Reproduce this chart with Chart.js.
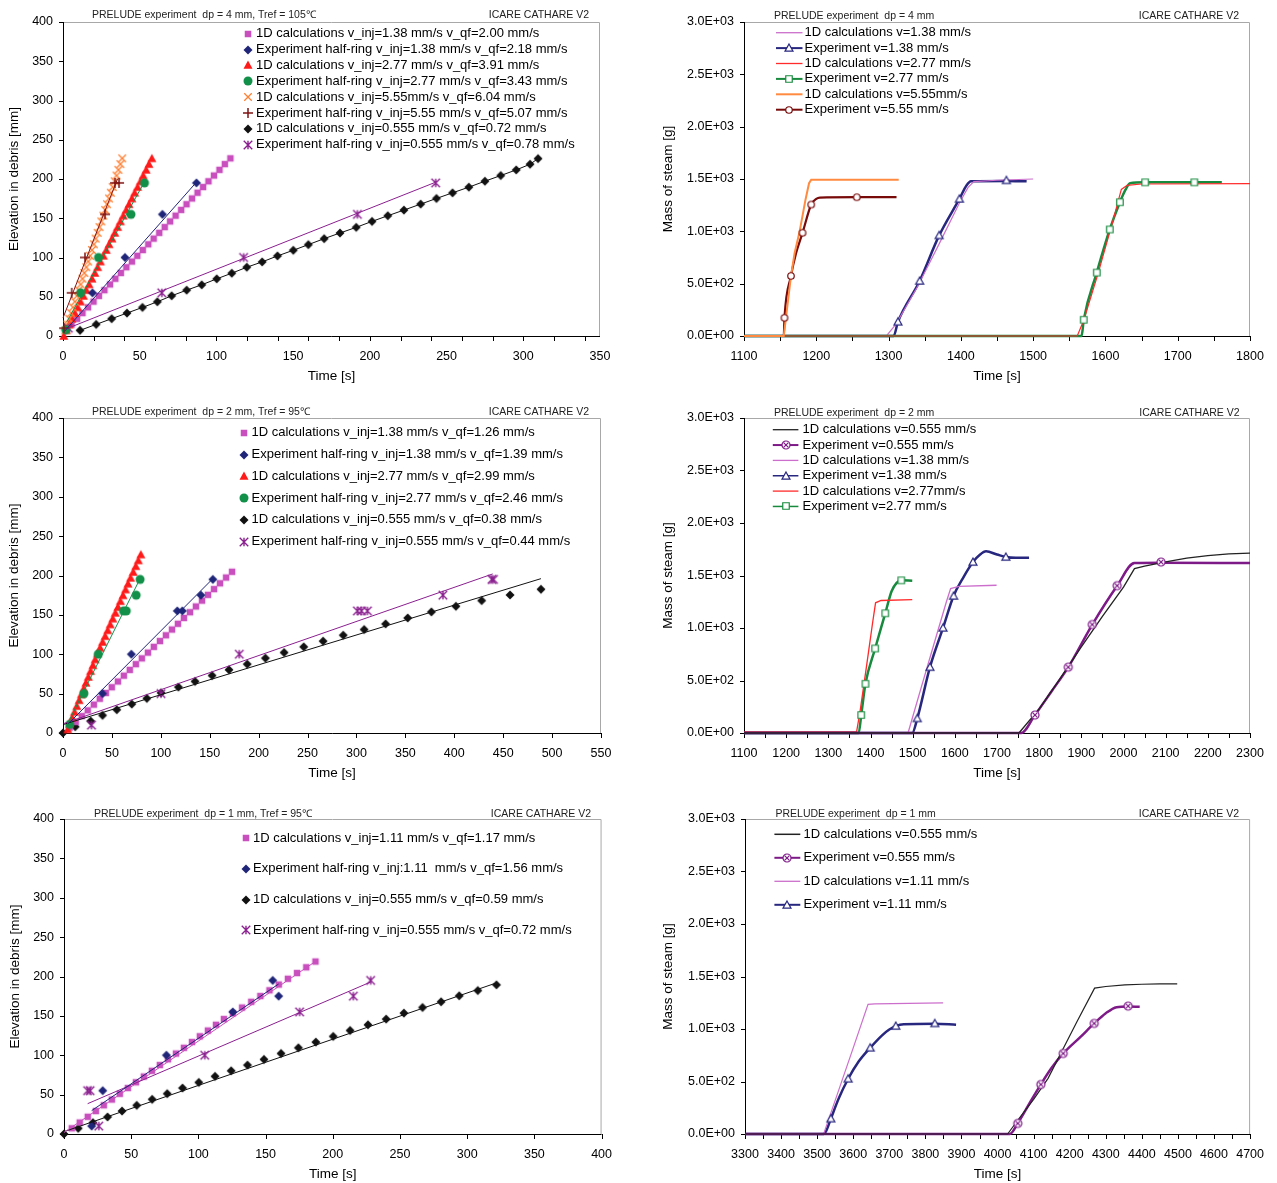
<!DOCTYPE html>
<html>
<head>
<meta charset="utf-8">
<title>PRELUDE quench front and steam mass</title>
<script src="https://cdn.jsdelivr.net/npm/chart.js@4.4.1/dist/chart.umd.min.js"></script>
<style>
  body { margin: 0; background: #fff; }
  #page { position: relative; width: 1277px; height: 1183px; overflow: hidden; background: #fff; }
  .cell { position: absolute; }
</style>
</head>
<body>
<div id="page">
  <div class="cell" style="left:0;top:0;width:625px;height:395px"><canvas id="dp4Front"></canvas></div>
  <div class="cell" style="left:640px;top:0;width:637px;height:395px"><canvas id="dp4Steam"></canvas></div>
  <div class="cell" style="left:0;top:398px;width:625px;height:395px"><canvas id="dp2Front"></canvas></div>
  <div class="cell" style="left:640px;top:398px;width:637px;height:395px"><canvas id="dp2Steam"></canvas></div>
  <div class="cell" style="left:0;top:800px;width:625px;height:383px"><canvas id="dp1Front"></canvas></div>
  <div class="cell" style="left:640px;top:800px;width:637px;height:383px"><canvas id="dp1Steam"></canvas></div>
</div>
<script>
// ---------- tick labels ----------
const elevTicks = [0, 50, 100, 150, 200, 250, 300, 350, 400];
const massTicks = [0, 500, 1000, 1500, 2000, 2500, 3000];
const time350 = [0, 50, 100, 150, 200, 250, 300, 350];
const time550 = [0, 50, 100, 150, 200, 250, 300, 350, 400, 450, 500, 550];
const time400 = [0, 50, 100, 150, 200, 250, 300, 350, 400];
const time1800 = [1100, 1200, 1300, 1400, 1500, 1600, 1700, 1800];
const time2300 = [1100, 1200, 1300, 1400, 1500, 1600, 1700, 1800, 1900, 2000, 2100, 2200, 2300];
const time4700 = [3300, 3400, 3500, 3600, 3700, 3800, 3900, 4000, 4100, 4200, 4300, 4400, 4500, 4600, 4700];

// ---------- dp = 4 mm, elevation of quench front: [time s, elevation mm] ----------
const dp4Calc138 = [[2.0,7.3],[5.6,14.6],[9.2,21.9],[12.7,29.2],[16.3,36.5],[19.9,43.8],[23.4,51.1],[27.0,58.4],[30.6,65.7],[34.1,73.0],[37.7,80.3],[41.3,87.6],[44.9,94.9],[48.4,102.2],[52.0,109.5],[55.6,116.8],[59.1,124.1],[62.7,131.4],[66.3,138.7],[69.8,146.0],[73.4,153.3],[77.0,160.6],[80.5,167.9],[84.1,175.2],[87.7,182.5],[91.3,189.8],[94.8,197.1],[98.4,204.4],[102.0,211.7],[105.5,219.0],[109.1,226.3]];
const dp4Exp138 = [[2,8],[19.2,55],[40.4,100],[64.8,155],[87,195]];
const dp4Exp138Fit = [[1,6],[87,196]];
const dp4Calc277 = [[0.5,0],[2.2,7.3],[4.0,14.6],[5.9,21.9],[7.7,29.2],[9.6,36.5],[11.4,43.8],[13.3,51.1],[15.2,58.4],[17.0,65.7],[18.9,73.0],[20.7,80.3],[22.6,87.6],[24.4,94.9],[26.3,102.2],[28.2,109.5],[30.0,116.8],[31.9,124.1],[33.7,131.4],[35.6,138.7],[37.4,146.0],[39.3,153.3],[41.2,160.6],[43.0,167.9],[44.9,175.2],[46.7,182.5],[48.6,189.8],[50.5,197.1],[52.3,204.4],[54.2,211.7],[56.0,219.0],[57.9,226.3]];
const dp4Exp277 = [[1.8,8],[11.5,55],[23.1,100],[44.3,155],[53.1,195]];
const dp4Exp277Fit = [[2.5,18],[53,196]];
const dp4Calc555 = [[1.6,7.3],[2.8,14.6],[4.1,21.9],[5.3,29.2],[6.5,36.5],[7.8,43.8],[9.0,51.1],[10.2,58.4],[11.5,65.7],[12.7,73.0],[13.9,80.3],[15.2,87.6],[16.4,94.9],[17.6,102.2],[18.9,109.5],[20.1,116.8],[21.3,124.1],[22.6,131.4],[23.8,138.7],[25.0,146.0],[26.3,153.3],[27.5,160.6],[28.7,167.9],[30.0,175.2],[31.2,182.5],[32.4,189.8],[33.7,197.1],[34.9,204.4],[36.1,211.7],[37.4,219.0],[38.6,226.3]];
const dp4Exp555 = [[0.7,10],[5.7,55],[14.3,100],[27.4,155],[33.9,195],[36.5,195]];
const dp4Exp555Fit = [[0,23],[35.5,200]];
const dp4Calc0555 = [[11.1,7.2],[21.6,14.8],[31.7,22.0],[41.7,29.2],[51.8,36.4],[61.5,43.6],[70.8,51.2],[80.6,58.4],[90.4,65.2],[100.2,72.8],[110.0,80.0],[119.8,87.6],[129.8,94.4],[139.8,102.0],[150.1,109.2],[159.9,116.4],[170.2,124.0],[180.5,131.2],[191.1,138.4],[201.4,146.0],[211.7,153.2],[222.2,160.4],[233.1,168.0],[243.4,175.2],[253.9,182.4],[264.5,189.6],[275.0,197.2],[285.3,204.4],[295.4,211.6],[304.4,218.8],[309.6,226.0]];
const dp4Exp0555 = [[3.5,10],[64.4,55],[117.7,100],[191.9,155],[242.9,195]];
const dp4Exp0555Fit = [[2,9],[243,196]];

// ---------- dp = 2 mm ----------
const dp2Calc138 = [[6.9,6.8],[13.0,14.1],[19.2,21.5],[25.3,28.8],[31.5,36.1],[37.6,43.5],[43.8,50.8],[49.9,58.1],[56.1,65.4],[62.2,72.8],[68.3,80.1],[74.5,87.4],[80.6,94.8],[86.8,102.1],[92.9,109.4],[99.1,116.8],[105.2,124.1],[111.4,131.4],[117.5,138.7],[123.6,146.1],[129.8,153.4],[135.9,160.7],[142.1,168.1],[148.2,175.4],[154.4,182.7],[160.5,190.1],[166.7,197.4],[172.8,204.7]];
const dp2Exp138 = [[40.4,50],[69.9,100],[116.8,155],[122,155],[141,175],[153.2,195]];
const dp2Exp138Fit = [[4.8,11],[153.2,196]];
const dp2Calc277 = [[4.8,4.6],[7.1,12.0],[9.5,19.4],[11.8,26.8],[14.1,34.2],[16.5,41.6],[18.8,49.0],[21.2,56.4],[23.5,63.8],[25.9,71.2],[28.2,78.6],[30.6,86.0],[32.9,93.4],[35.3,100.8],[37.9,108.2],[40.5,115.6],[43.1,123.0],[45.7,130.4],[48.3,137.8],[50.9,145.2],[53.5,152.6],[56.1,160.0],[58.7,167.4],[61.3,174.8],[63.9,182.2],[66.5,189.6],[69.1,197.0],[71.8,204.4],[74.4,211.8],[77.0,219.2],[79.6,226.6]];
const dp2Exp277 = [[6.9,11],[21.4,50],[36,100],[61.8,155],[64.7,155],[74.8,175],[78.8,195]];
const dp2Exp277Fit = [[2.8,7],[78.8,196]];
const dp2Calc0555 = [[0,0],[12.5,8],[28.3,15.2],[40.4,22.4],[55,29.6],[70.3,36.7],[85.7,43.9],[100.2,51.1],[118,58.3],[135,65.5],[152.4,73],[169.7,80.3],[188.3,87.4],[206.9,95],[226,102.2],[246.1,109.4],[265.9,116.6],[286.5,124.2],[307.9,131.4],[329.8,138.5],[352.4,146.1],[376.6,153.8],[401.7,160.9],[428,168.1],[457,175.3],[488.6,182.5]];
const dp2Calc0555Fit = [[0.8,11],[488.6,196]];
const dp2Exp0555 = [[29.1,10],[100.2,50],[180.2,100],[301,155],[305.1,155],[311.2,155],[388.4,175],[438.5,195],[440.1,195]];
const dp2Exp0555Fit = [[0.8,12],[439.3,202]];

// ---------- dp = 1 mm ----------
const dp1Calc111 = [[5.8,7.3],[11.7,14.6],[17.7,21.9],[23.7,29.2],[29.6,36.5],[35.6,43.8],[41.5,51.1],[47.5,58.4],[53.5,65.7],[59.4,73.0],[65.4,80.3],[71.3,87.6],[77.3,94.9],[83.3,102.2],[89.2,109.5],[95.2,116.8],[101.1,124.1],[107.1,131.4],[113.1,138.7],[119.0,146.0],[125.7,153.3],[132.5,160.6],[139.3,167.9],[146.1,175.2],[152.9,182.5],[159.8,189.8],[166.6,197.1],[173.4,204.4],[180.3,211.7],[187.1,219.0]];
const dp1Calc111Fit = [[0,2],[187,219]];
const dp1Exp111 = [[20.6,10],[28.8,55],[76.2,100],[125.6,155],[155.3,195],[159.7,175]];
const dp1Exp111Fit = [[20.6,29.7],[159.7,190.5]];
const dp1Calc0555 = [[0,0],[10.6,7.2],[21.5,14.4],[32.4,21.6],[43.2,29.2],[54.1,36.4],[65.6,44],[76.8,51.2],[88.2,58.4],[100.3,65.5],[112.4,73.2],[124.4,80.3],[136.5,87.5],[148.8,94.7],[161.5,102.3],[174.4,109.5],[187.4,116.7],[200.3,123.9],[212.9,131.5],[226.2,138.7],[239.7,145.9],[252.9,153.5],[266.8,160.7],[280.6,167.9],[294.1,175.5],[307.9,182.2],[321.8,189.4]];
const dp1Calc0555Fit = [[0,3],[322,192]];
const dp1Exp0555 = [[17.6,55],[19.4,55],[25.9,10],[104.7,100],[175.3,155],[215.3,175],[228.2,195]];
const dp1Exp0555Fit = [[17.6,38.5],[228.2,193]];

// ---------- mass of steam: [time s, mass g] ----------
const m4Calc138 = [[1100,0],[1297,0],[1310,110],[1340,470],[1370,880],[1398,1270],[1410,1420],[1418,1475],[1450,1488],[1500,1500]];
const m4Exp138 = [[1100,0],[1307,0],[1313,136],[1343,526],[1370,961],[1398,1310],[1408,1440],[1414,1478],[1463,1482],[1491,1478]];
const m4Exp138Marks = [[1313,136],[1343,526],[1370,961],[1398,1310],[1463,1487]];
const m4Calc277 = [[1100,0],[1561,0],[1570,150],[1590,600],[1610,1090],[1622,1400],[1630,1440],[1650,1452],[1800,1456]];
const m4Exp277 = [[1100,0],[1567,0],[1570,155],[1588,606],[1606,1018],[1620,1278],[1628,1400],[1634,1460],[1655,1468],[1761,1468]];
const m4Exp277Marks = [[1570,155],[1588,606],[1606,1018],[1620,1278],[1655,1468],[1723,1468]];
const m4Calc555 = [[1100,0],[1155,0],[1165,574],[1170,790],[1177,1000],[1185,1300],[1190,1460],[1193,1494],[1314,1494]];
const m4Exp555 = [[1100,0],[1155,0],[1156,174],[1165,574],[1172,790],[1181,986],[1193,1256],[1200,1310],[1205,1322],[1256,1326],[1311,1326]];
const m4Exp555Marks = [[1156,174],[1165,574],[1181,986],[1193,1256],[1256,1326]];

const m2Calc0555 = [[1100,0],[1752,0],[1800,230],[1850,520],[1900,820],[1950,1110],[2000,1390],[2026,1565],[2050,1590],[2100,1630],[2150,1665],[2200,1690],[2250,1705],[2300,1714]];
const m2Exp0555 = [[1100,0],[1757,0],[1790,171],[1830,400],[1869,627],[1926,1033],[1985,1403],[2026,1619],[2089,1622],[2300,1619]];
const m2Exp0555Marks = [[1790,171],[1869,627],[1926,1033],[1985,1403],[2089,1628]];
const m2Calc138 = [[1100,0],[1489,0],[1520,430],[1550,840],[1580,1250],[1590,1375],[1610,1397],[1699,1407]];
const m2Exp138 = [[1100,0],[1499,0],[1511,139],[1541,627],[1572,1001],[1597,1305],[1620,1480],[1643,1628],[1660,1700],[1674,1730],[1700,1700],[1721,1676],[1745,1668],[1776,1670]];
const m2Exp138Marks = [[1511,139],[1541,627],[1572,1001],[1597,1305],[1643,1628],[1721,1676]];
const m2Calc277 = [[1100,10],[1367,10],[1375,200],[1390,620],[1405,1050],[1412,1240],[1425,1262],[1499,1270]];
const m2Exp277 = [[1100,0],[1372,0],[1378,171],[1388,469],[1411,805],[1435,1140],[1450,1350],[1462,1430],[1473,1454],[1499,1450]];
const m2Exp277Marks = [[1378,171],[1388,469],[1411,805],[1435,1140],[1473,1454]];

const m1Calc0555 = [[3300,0],[4028,0],[4060,150],[4100,330],[4140,530],[4180,800],[4220,1070],[4269,1389],[4300,1405],[4353,1421],[4400,1426],[4450,1430],[4498,1430]];
const m1Exp0555 = [[3300,0],[4034,0],[4056,101],[4090,300],[4120,472],[4150,630],[4182,767],[4230,925],[4268,1053],[4300,1150],[4330,1208],[4362,1215],[4394,1211]];
const m1Exp0555Marks = [[4056,101],[4120,472],[4182,767],[4268,1053],[4362,1218]];
const m1Calc111 = [[3300,0],[3518,0],[3560,420],[3600,820],[3641,1234],[3660,1240],[3849,1249]];
const m1Exp111 = [[3300,0],[3518,0],[3525,30],[3538,146],[3560,340],[3586,526],[3615,690],[3647,821],[3680,940],[3700,995],[3718,1028],[3740,1045],[3826,1050],[3885,1040]];
const m1Exp111Marks = [[3538,146],[3586,526],[3647,821],[3718,1028],[3826,1053]];

// ---------- legend texts ----------
const dp4Labels = ['1D calculations v_inj=1.38 mm/s v_qf=2.00 mm/s', 'Experiment half-ring v_inj=1.38 mm/s v_qf=2.18 mm/s', '1D calculations v_inj=2.77 mm/s v_qf=3.91 mm/s', 'Experiment half-ring v_inj=2.77 mm/s v_qf=3.43 mm/s', '1D calculations v_inj=5.55mm/s v_qf=6.04 mm/s', 'Experiment half-ring v_inj=5.55 mm/s v_qf=5.07 mm/s', '1D calculations v_inj=0.555 mm/s v_qf=0.72 mm/s', 'Experiment half-ring v_inj=0.555 mm/s v_qf=0.78 mm/s'];
const dp2Labels = ['1D calculations v_inj=1.38 mm/s v_qf=1.26 mm/s', 'Experiment half-ring v_inj=1.38 mm/s v_qf=1.39 mm/s', '1D calculations v_inj=2.77 mm/s v_qf=2.99 mm/s', 'Experiment half-ring v_inj=2.77 mm/s v_qf=2.46 mm/s', '1D calculations v_inj=0.555 mm/s v_qf=0.38 mm/s', 'Experiment half-ring v_inj=0.555 mm/s v_qf=0.44 mm/s'];
const dp1Labels = ['1D calculations v_inj=1.11 mm/s v_qf=1.17 mm/s', 'Experiment half-ring v_inj:1.11  mm/s v_qf=1.56 mm/s', '1D calculations v_inj=0.555 mm/s v_qf=0.59 mm/s', 'Experiment half-ring v_inj=0.555 mm/s v_qf=0.72 mm/s'];
const m4Labels = ['1D calculations v=1.38 mm/s', 'Experiment v=1.38 mm/s', '1D calculations v=2.77 mm/s', 'Experiment v=2.77 mm/s', '1D calculations v=5.55mm/s', 'Experiment v=5.55 mm/s'];
const m2Labels = ['1D calculations v=0.555 mm/s', 'Experiment v=0.555 mm/s', '1D calculations v=1.38 mm/s', 'Experiment v=1.38 mm/s', '1D calculations v=2.77mm/s', 'Experiment v=2.77 mm/s'];
const m1Labels = ['1D calculations v=0.555 mm/s', 'Experiment v=0.555 mm/s', '1D calculations v=1.11 mm/s', 'Experiment v=1.11 mm/s'];

// ---------- styles ----------
const FONT = '"Liberation Sans", Arial, Helvetica, sans-serif';
const col = {
  pink: '#c94fbe', navy: '#1f2578', red: '#ff1a1a', green: '#12904a', orange: '#ff7f33',
  brown: '#801414', black: '#111111', purple: '#8a1f8f',
  pinkLine: '#cc6fcc', navyLine: '#28277f', redLine: '#ff2a2a', greenLine: '#178a3e',
  orangeLine: '#ff8a40', brownLine: '#780a0a', blackLine: '#222222', purpleLine: '#7e1a88'
};

function mark(shape, color, size, lw) {
  const s = Math.ceil(size) + 4 + (Math.ceil(size) % 2);
  const c = document.createElement('canvas');
  c.width = c.height = s;
  const g = c.getContext('2d');
  const m = s / 2, h = size / 2;
  g.strokeStyle = color; g.fillStyle = color; g.lineWidth = lw || 1;
  g.beginPath();
  if (shape === 'square') {
    g.fillRect(m - h, m - h, size, size);
  } else if (shape === 'diamond') {
    g.moveTo(m, m - h); g.lineTo(m + h, m); g.lineTo(m, m + h); g.lineTo(m - h, m); g.closePath(); g.fill();
  } else if (shape === 'triangle') {
    g.moveTo(m, m - h); g.lineTo(m + h, m + h * 0.85); g.lineTo(m - h, m + h * 0.85); g.closePath(); g.fill();
  } else if (shape === 'dot') {
    g.arc(m, m, h, 0, Math.PI * 2); g.fill();
  } else if (shape === 'x') {
    g.moveTo(m - h, m - h); g.lineTo(m + h, m + h); g.moveTo(m + h, m - h); g.lineTo(m - h, m + h); g.stroke();
  } else if (shape === 'plus') {
    g.moveTo(m - h, m); g.lineTo(m + h, m); g.moveTo(m, m - h); g.lineTo(m, m + h); g.stroke();
  } else if (shape === 'star') {
    g.moveTo(m - h, m - h); g.lineTo(m + h, m + h); g.moveTo(m + h, m - h); g.lineTo(m - h, m + h);
    g.moveTo(m, m - h); g.lineTo(m, m + h); g.stroke();
  } else if (shape === 'openTri') {
    g.moveTo(m, m - h); g.lineTo(m + h, m + h * 0.8); g.lineTo(m - h, m + h * 0.8); g.closePath();
    g.fillStyle = '#fff'; g.fill(); g.stroke();
  } else if (shape === 'openSq') {
    g.rect(m - h, m - h, size, size); g.fillStyle = '#fff'; g.fill(); g.stroke();
  } else if (shape === 'openCirc') {
    g.arc(m, m, h, 0, Math.PI * 2); g.fillStyle = '#fff'; g.fill(); g.stroke();
  } else if (shape === 'circX') {
    g.arc(m, m, h, 0, Math.PI * 2); g.fillStyle = '#fff'; g.fill(); g.stroke();
    const k = h * 0.6;
    g.beginPath(); g.moveTo(m - k, m - k); g.lineTo(m + k, m + k); g.moveTo(m + k, m - k); g.lineTo(m - k, m + k); g.stroke();
  }
  return c;
}

const mk = {
  pinkSq: mark('square', col.pink, 6.5),
  navyDia: mark('diamond', col.navy, 9),
  redTri: mark('triangle', col.red, 9),
  greenDot: mark('dot', col.green, 9),
  orangeX: mark('x', col.orange, 7.5, 1.3),
  brownPlus: mark('plus', col.brown, 10, 1.5),
  blackDia: mark('diamond', col.black, 9),
  purpleStar: mark('star', col.purple, 8.5, 1.4),
  openTri: mark('openTri', col.navyLine, 8, 1.2),
  openSq: mark('openSq', col.greenLine, 6.5, 1.2),
  openCirc: mark('openCirc', col.brownLine, 6.5, 1.2),
  circX: mark('circX', col.purpleLine, 8, 1.2)
};

// ---------- drawing helpers ----------
function sci(v) {
  if (v === 0) return '0.0E+00';
  const e = Math.floor(Math.log10(v));
  return (v / Math.pow(10, e)).toFixed(1) + 'E+' + String(e).padStart(2, '0');
}

const decor = {
  id: 'decor',
  beforeDatasetsDraw(chart, args, o) {
    const {ctx, chartArea: a, scales: {x, y}} = chart;
    ctx.save();
    ctx.lineWidth = 1;
    ctx.strokeStyle = '#a8a8a8';
    ctx.beginPath();
    ctx.moveTo(a.left, a.top + 0.5); ctx.lineTo(a.right - 0.5, a.top + 0.5); ctx.lineTo(a.right - 0.5, a.bottom);
    ctx.stroke();
    ctx.strokeStyle = '#000';
    ctx.beginPath();
    ctx.moveTo(a.left + 0.5, a.top); ctx.lineTo(a.left + 0.5, a.bottom + 0.5); ctx.lineTo(a.right, a.bottom + 0.5);
    for (let v = x.min; v <= x.max + 1e-6; v += o.xStep) {
      const px = Math.round(x.getPixelForValue(v)) + 0.5;
      ctx.moveTo(px, a.bottom); ctx.lineTo(px, a.bottom + 5);
    }
    for (let v = y.min; v <= y.max + 1e-6; v += o.yStep) {
      const py = Math.round(y.getPixelForValue(v)) + 0.5;
      ctx.moveTo(a.left - 4, py); ctx.lineTo(a.left, py);
    }
    ctx.stroke();
    ctx.restore();
  },
  afterDraw(chart, args, o) {
    const ctx = chart.ctx;
    ctx.save();
    ctx.fillStyle = '#222';
    ctx.font = '10.5px ' + FONT;
    ctx.textBaseline = 'middle';
    ctx.textAlign = 'left';
    ctx.fillText(o.head, o.headX, o.headY);
    ctx.textAlign = 'right';
    ctx.fillText('ICARE CATHARE V2', o.codeX, o.headY);
    const L = o.legend;
    ctx.font = '13px ' + FONT;
    ctx.textAlign = 'left';
    ctx.fillStyle = '#000';
    L.items.forEach((it, i) => {
      const yy = L.y0 + i * L.dy;
      if (L.line) {
        ctx.strokeStyle = it.color; ctx.lineWidth = it.width;
        ctx.beginPath(); ctx.moveTo(L.x0, yy); ctx.lineTo(L.x1, yy); ctx.stroke();
        if (it.mark) ctx.drawImage(it.mark, Math.round((L.x0 + L.x1) / 2 - it.mark.width / 2), Math.round(yy - it.mark.height / 2));
      } else {
        const m = it.mark;
        ctx.drawImage(m, Math.round(L.mx - m.width / 2), Math.round(yy - m.height / 2));
      }
      ctx.fillText(it.text, L.tx, yy);
    });
    ctx.restore();
  }
};

function points(data, m) {
  return {data: data.map(p => ({x: p[0], y: p[1]})), showLine: false, pointStyle: m, pointRadius: 4, clip: false};
}
function line(data, color, width, m, smooth) {
  return {
    data: data.map(p => ({x: p[0], y: p[1]})), showLine: true, borderColor: color, borderWidth: width,
    pointRadius: 0, pointStyle: m || 'circle', tension: smooth ? 0.4 : 0,
    cubicInterpolationMode: smooth ? 'monotone' : 'default', clip: false
  };
}

function build(id, p) {
  const tickFont = {family: FONT, size: 12.5};
  const titleFont = {family: FONT, size: 13.5};
  const datasets = p.series.map((d, i) => Object.assign(d, {order: p.series.length - i}));
  new Chart(document.getElementById(id), {
    type: 'scatter',
    data: {datasets},
    options: {
      responsive: true, maintainAspectRatio: false, animation: false, events: [],
      layout: {padding: p.pad},
      plugins: {
        legend: {display: false}, tooltip: {enabled: false},
        decor: {xStep: p.xStep, yStep: p.yStep, head: p.head, headX: p.headX, codeX: p.codeX, headY: p.headY, legend: p.legend}
      },
      scales: {
        x: {
          type: 'linear', min: p.xTicks[0], max: p.xTicks[p.xTicks.length - 1],
          afterBuildTicks: s => { s.ticks = p.xTicks.map(v => ({value: v})); },
          afterFit: s => { s.height = p.xH; },
          ticks: {font: tickFont, color: '#000', padding: 13, maxRotation: 0, autoSkip: false, callback: v => String(v)},
          grid: {display: false, drawTicks: false}, border: {display: false},
          title: {display: true, text: 'Time [s]', color: '#000', font: titleFont, padding: {top: 0, bottom: p.xH - 48.1}}
        },
        y: {
          type: 'linear', min: p.yTicks[0], max: p.yTicks[p.yTicks.length - 1],
          afterBuildTicks: s => { s.ticks = p.yTicks.map(v => ({value: v})); },
          afterFit: s => { s.width = p.yW; },
          ticks: {font: tickFont, color: '#000', padding: 10, autoSkip: false, callback: p.yFmt || (v => String(v))},
          grid: {display: false, drawTicks: false}, border: {display: false},
          title: {display: true, text: p.yTitle, color: '#000', font: titleFont, padding: {top: p.yTitlePad, bottom: 0}}
        }
      }
    },
    plugins: [decor]
  });
}

// ---------- left column: quench front elevation ----------
build('dp4Front', {
  pad: {top: 22, right: 25, left: 0, bottom: 0}, yW: 63, xH: 59,
  xTicks: time350, xStep: 20, yTicks: elevTicks, yStep: 50,
  yTitle: 'Elevation in debris [mm]', yTitlePad: 6,
  head: 'PRELUDE experiment  dp = 4 mm, Tref = 105\u2103', headX: 92, codeX: 589, headY: 15.5,
  legend: {mx: 248, tx: 256, y0: 33.7, dy: 15.85, items: [
    {text: dp4Labels[0], mark: mk.pinkSq}, {text: dp4Labels[1], mark: mk.navyDia},
    {text: dp4Labels[2], mark: mk.redTri}, {text: dp4Labels[3], mark: mk.greenDot},
    {text: dp4Labels[4], mark: mk.orangeX}, {text: dp4Labels[5], mark: mk.brownPlus},
    {text: dp4Labels[6], mark: mk.blackDia}, {text: dp4Labels[7], mark: mk.purpleStar}]},
  series: [
    line(dp4Calc0555, col.black, 1),
    points(dp4Calc0555, mk.blackDia),
    points(dp4Calc138, mk.pinkSq),
    points(dp4Calc277, mk.redTri),
    points(dp4Calc555, mk.orangeX),
    points(dp4Exp0555, mk.purpleStar),
    points(dp4Exp138, mk.navyDia),
    points(dp4Exp277, mk.greenDot),
    points(dp4Exp555, mk.brownPlus),
    line(dp4Exp0555Fit, col.purple, 1),
    line(dp4Exp138Fit, col.navy, 1),
    line(dp4Exp277Fit, col.green, 1),
    line(dp4Exp555Fit, col.brown, 1)
  ]
});

build('dp2Front', {
  pad: {top: 20, right: 24, left: 0, bottom: 0}, yW: 63, xH: 60,
  xTicks: time550, xStep: 50, yTicks: elevTicks, yStep: 50,
  yTitle: 'Elevation in debris [mm]', yTitlePad: 6,
  head: 'PRELUDE experiment  dp = 2 mm, Tref = 95\u2103', headX: 92, codeX: 589, headY: 14.3,
  legend: {mx: 244, tx: 251.5, y0: 34.7, dy: 21.8, items: [
    {text: dp2Labels[0], mark: mk.pinkSq}, {text: dp2Labels[1], mark: mk.navyDia},
    {text: dp2Labels[2], mark: mk.redTri}, {text: dp2Labels[3], mark: mk.greenDot},
    {text: dp2Labels[4], mark: mk.blackDia}, {text: dp2Labels[5], mark: mk.purpleStar}]},
  series: [
    points(dp2Calc0555, mk.blackDia),
    points(dp2Calc138, mk.pinkSq),
    points(dp2Calc277, mk.redTri),
    points(dp2Exp0555, mk.purpleStar),
    points(dp2Exp138, mk.navyDia),
    points(dp2Exp277, mk.greenDot),
    line(dp2Calc0555Fit, col.black, 1),
    line(dp2Exp0555Fit, col.purple, 1),
    line(dp2Exp138Fit, col.navy, 1),
    line(dp2Exp277Fit, col.green, 1)
  ]
});

build('dp1Front', {
  pad: {top: 19, right: 23, left: 0, bottom: 0}, yW: 64, xH: 49,
  xTicks: time400, xStep: 50, yTicks: elevTicks, yStep: 50,
  yTitle: 'Elevation in debris [mm]', yTitlePad: 7,
  head: 'PRELUDE experiment  dp = 1 mm, Tref = 95\u2103', headX: 94, codeX: 591, headY: 14.3,
  legend: {mx: 246, tx: 253, y0: 38, dy: 30.8, items: [
    {text: dp1Labels[0], mark: mk.pinkSq}, {text: dp1Labels[1], mark: mk.navyDia},
    {text: dp1Labels[2], mark: mk.blackDia}, {text: dp1Labels[3], mark: mk.purpleStar}]},
  series: [
    points(dp1Calc0555, mk.blackDia),
    points(dp1Calc111, mk.pinkSq),
    points(dp1Exp0555, mk.purpleStar),
    points(dp1Exp111, mk.navyDia),
    line(dp1Calc0555Fit, col.black, 1),
    line(dp1Calc111Fit, col.pink, 1),
    line(dp1Exp0555Fit, col.purple, 1),
    line(dp1Exp111Fit, col.navy, 1)
  ]
});

// ---------- right column: mass of steam (1D runs piecewise straight, experiments smoothed) ----------
build('dp4Steam', {
  pad: {top: 22, right: 27, left: 0, bottom: 0}, yW: 104, xH: 59,
  xTicks: time1800, xStep: 50, yTicks: massTicks, yStep: 500, yFmt: sci,
  yTitle: 'Mass of steam [g]', yTitlePad: 20,
  head: 'PRELUDE experiment  dp = 4 mm', headX: 134, codeX: 599, headY: 16,
  legend: {line: true, x0: 136, x1: 162.5, tx: 164.5, y0: 32.7, dy: 15.4, items: [
    {text: m4Labels[0], color: col.pinkLine, width: 1.3},
    {text: m4Labels[1], color: col.navyLine, width: 2, mark: mk.openTri},
    {text: m4Labels[2], color: col.redLine, width: 1.3},
    {text: m4Labels[3], color: col.greenLine, width: 2, mark: mk.openSq},
    {text: m4Labels[4], color: col.orangeLine, width: 2},
    {text: m4Labels[5], color: col.brownLine, width: 2, mark: mk.openCirc}]},
  series: [
    points(m4Exp138Marks, mk.openTri),
    points(m4Exp277Marks, mk.openSq),
    points(m4Exp555Marks, mk.openCirc),
    line(m4Calc555, col.orangeLine, 2),
    line(m4Exp555, col.brownLine, 2.2, null, true),
    line(m4Calc277, col.redLine, 1.2),
    line(m4Exp277, col.greenLine, 2.5, null, true),
    line(m4Calc138, col.pinkLine, 1.2),
    line(m4Exp138, col.navyLine, 2.5, null, true)
  ].reverse()
});

build('dp2Steam', {
  pad: {top: 20, right: 27, left: 0, bottom: 0}, yW: 104, xH: 60,
  xTicks: time2300, xStep: 50, yTicks: massTicks, yStep: 500, yFmt: sci,
  yTitle: 'Mass of steam [g]', yTitlePad: 20,
  head: 'PRELUDE experiment  dp = 2 mm', headX: 134, codeX: 599.5, headY: 15.3,
  legend: {line: true, x0: 132.8, x1: 158.4, tx: 162.5, y0: 31.7, dy: 15.35, items: [
    {text: m2Labels[0], color: col.blackLine, width: 1.3},
    {text: m2Labels[1], color: col.purpleLine, width: 2, mark: mk.circX},
    {text: m2Labels[2], color: col.pinkLine, width: 1.3},
    {text: m2Labels[3], color: col.navyLine, width: 1.5, mark: mk.openTri},
    {text: m2Labels[4], color: col.redLine, width: 1.3},
    {text: m2Labels[5], color: col.greenLine, width: 1.5, mark: mk.openSq}]},
  series: [
    points(m2Exp0555Marks, mk.circX),
    points(m2Exp138Marks, mk.openTri),
    points(m2Exp277Marks, mk.openSq),
    line(m2Calc0555, col.blackLine, 1.3),
    line(m2Exp0555, col.purpleLine, 2.5, null, true),
    line(m2Calc138, col.pinkLine, 1.3),
    line(m2Exp138, col.navyLine, 2.5, null, true),
    line(m2Calc277, col.redLine, 1.3),
    line(m2Exp277, col.greenLine, 2.5, null, true)
  ].reverse()
});

build('dp1Steam', {
  pad: {top: 19, right: 26, left: 0, bottom: 0}, yW: 105, xH: 49,
  xTicks: time4700, xStep: 50, yTicks: massTicks, yStep: 500, yFmt: sci,
  yTitle: 'Mass of steam [g]', yTitlePad: 20,
  head: 'PRELUDE experiment  dp = 1 mm', headX: 135.5, codeX: 599, headY: 14.3,
  legend: {line: true, x0: 134.4, x1: 160.3, tx: 163.6, y0: 34.3, dy: 23.5, items: [
    {text: m1Labels[0], color: col.blackLine, width: 1.5},
    {text: m1Labels[1], color: col.purpleLine, width: 2, mark: mk.circX},
    {text: m1Labels[2], color: col.pinkLine, width: 1.3},
    {text: m1Labels[3], color: col.navyLine, width: 2, mark: mk.openTri}]},
  series: [
    points(m1Exp0555Marks, mk.circX),
    points(m1Exp111Marks, mk.openTri),
    line(m1Calc0555, col.blackLine, 1.2),
    line(m1Exp0555, col.purpleLine, 2.5, null, true),
    line(m1Calc111, col.pinkLine, 1.2),
    line(m1Exp111, col.navyLine, 2.5, null, true)
  ].reverse()
});
</script>
</body>
</html>
